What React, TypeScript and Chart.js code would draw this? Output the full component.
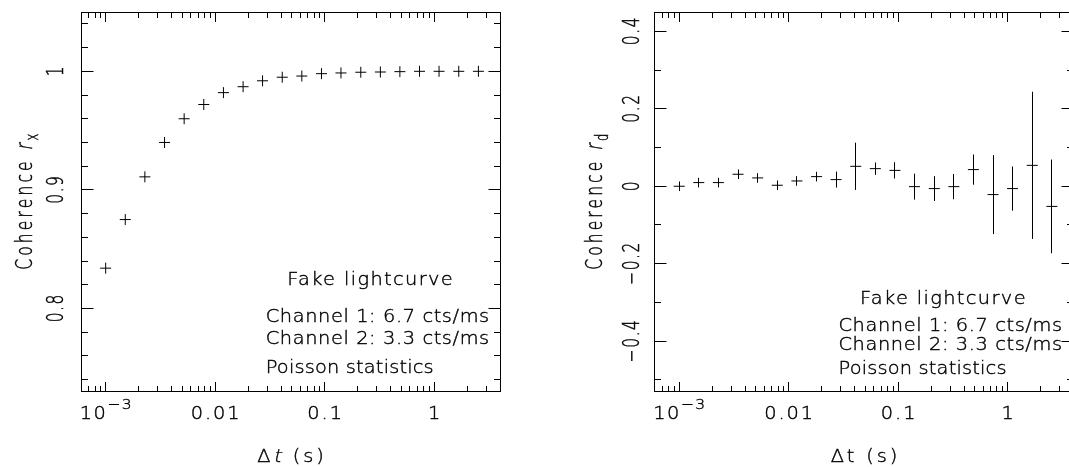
import React, { useEffect, useRef } from 'react';
import { Chart, registerables } from 'chart.js';

Chart.register(...registerables);

// ---------------- data ----------------
const deltaT = [0.001, 0.00151, 0.00228, 0.00345, 0.00521, 0.00787, 0.0119, 0.018, 0.0271, 0.041, 0.0619, 0.0936, 0.141, 0.214, 0.323, 0.487, 0.736, 1.11, 1.68, 2.54];
const coherenceRx = [0.834, 0.875, 0.911, 0.94, 0.96, 0.972, 0.982, 0.987, 0.992, 0.995, 0.996, 0.998, 0.9986, 0.9992, 0.9994, 0.9997, 1.0, 1.0, 1.0, 1.0];
const coherenceRd = [0.0, 0.0095, 0.0095, 0.031, 0.0215, 0.0026, 0.0137, 0.0249, 0.0172, 0.0515, 0.0455, 0.041, -0.001, -0.006, -0.001, 0.043, -0.0215, -0.006, 0.054, -0.052];
const coherenceRdErr = [0.004, 0.004, 0.004, 0.005, 0.005, 0.005, 0.006, 0.008, 0.0206, 0.061, 0.016, 0.021, 0.0335, 0.032, 0.0326, 0.039, 0.102, 0.057, 0.19, 0.121];

const xTickValues = [0.001, 0.01, 0.1, 1];
const xTickLabels = ['10^\u22123', '0.01', '0.1', '1'];
const yTickValuesL = [0.8, 0.9, 1];
const yTickLabelsL = ['0.8', '0.9', '1'];
const yMinorValuesL = [0.74, 0.76, 0.78, 0.82, 0.84, 0.86, 0.88, 0.92, 0.94, 0.96, 0.98, 1.02, 1.04];
const yTickValuesR = [-0.4, -0.2, 0, 0.2, 0.4];
const yTickLabelsR = ['\u22120.4', '\u22120.2', '0', '0.2', '0.4'];
const yMinorValuesR = [-0.5, -0.3, -0.1, 0.1, 0.3];

const notes = ['Fake lightcurve', 'Channel 1: 6.7 cts/ms', 'Channel 2: 3.3 cts/ms', 'Poisson statistics'];

const X_MIN = 5.95e-4;
const X_MAX = 4.0;

// ---------------- style ----------------
const FONT_FAMILY = '"DejaVu Sans", "Liberation Sans", sans-serif';
const FONT_WEIGHT = '200';
const FS = 18;
const SX = 1.25; // horizontal stretch of the original device
const COND = 0.86; // glyph condensation (narrow strokes font, wide spacing)
const INK = '#000';
const TICK_LS = 1.8;

type Seg = { t: string; italic?: boolean; scale?: number; dy?: number };

function fontStr(size: number) {
  return `${FONT_WEIGHT} ${size}px ${FONT_FAMILY}`;
}
function setLS(ctx: any, ls: number) {
  if ('letterSpacing' in ctx) ctx.letterSpacing = `${ls}px`;
}
function parseLabel(s: string): Seg[] {
  const i = s.indexOf('^');
  if (i < 0) return [{ t: s }];
  return [{ t: s.slice(0, i) }, { t: s.slice(i + 1), scale: 0.8, dy: -9.5 }];
}
function drawText(ctx: any, segs: Seg[], x: number, y: number, align: string, rot: number, target?: number, lsDefault = 1.5) {
  ctx.save();
  ctx.translate(x, y);
  ctx.scale(SX, 1);
  if (rot) ctx.rotate(rot);
  ctx.scale(COND, 1);
  setLS(ctx, 0);
  const w0 = segs.map((s) => {
    ctx.font = fontStr(FS * (s.scale ?? 1));
    return ctx.measureText(s.t).width;
  });
  const counts = segs.map((s) => Array.from(s.t).length);
  const nChars = counts.reduce((a, b) => a + b, 0);
  const sum0 = w0.reduce((a, b) => a + b, 0);
  let ls = lsDefault;
  if (target && nChars > 1) {
    const local = (rot ? target : target / SX) / COND;
    ls = (local - sum0) / (nChars - 1);
  }
  const total = sum0 + (nChars - 1) * ls;
  let cx = align === 'left' ? 0 : align === 'center' ? -total / 2 : -total;
  ctx.textAlign = 'left';
  ctx.textBaseline = 'alphabetic';
  ctx.fillStyle = INK;
  ctx.strokeStyle = INK;
  ctx.lineWidth = 0.4;
  segs.forEach((s, i) => {
    ctx.font = fontStr(FS * (s.scale ?? 1));
    setLS(ctx, ls);
    ctx.save();
    ctx.translate(cx, s.dy ?? 0);
    if (s.italic) ctx.transform(1, 0, -0.22, 1, 0, 0);
    ctx.fillText(s.t, 0, 0);
    ctx.strokeText(s.t, 0, 0);
    ctx.restore();
    cx += w0[i] + counts[i] * ls;
  });
  ctx.restore();
}

const crisp = (v: number) => Math.round(v - 0.5) + 0.5;

const pgPlugin = {
  id: 'pg',
  afterDatasetsDraw(chart: any, _args: any, opts: any) {
    if (!opts.errors) return;
    const ctx = chart.ctx;
    const xs = chart.scales.x;
    const ys = chart.scales.y;
    ctx.save();
    ctx.strokeStyle = '#000';
    ctx.lineWidth = 1;
    opts.errors.forEach((e: number, i: number) => {
      const px = crisp(xs.getPixelForValue(opts.xv[i]));
      const yc = ys.getPixelForValue(opts.yv[i]);
      const y1 = Math.min(ys.getPixelForValue(opts.yv[i] + e), yc - opts.minArm);
      const y2 = Math.max(ys.getPixelForValue(opts.yv[i] - e), yc + opts.minArm);
      ctx.beginPath();
      ctx.moveTo(px, y1);
      ctx.lineTo(px, y2);
      ctx.stroke();
    });
    ctx.restore();
  },
  afterDraw(chart: any, _args: any, opts: any) {
    const ctx = chart.ctx;
    const a = chart.chartArea;
    const xs = chart.scales.x;
    const ys = chart.scales.y;
    const L = crisp(a.left), R = crisp(a.right), T = crisp(a.top), B = crisp(a.bottom);
    ctx.save();
    ctx.strokeStyle = '#000';
    ctx.lineWidth = 1;
    ctx.strokeRect(L, T, R - L, B - T);
    ctx.beginPath();
    const xMajor = 9.5, xMinor = 5.5, yMajor = 12, yMinor = 6.5;
    const xminors: number[] = [];
    for (let d = -4; d <= 1; d++) {
      for (let m = 2; m <= 9; m++) {
        const v = m * Math.pow(10, d);
        if (v > X_MIN && v < X_MAX) xminors.push(v);
      }
    }
    const xt = (v: number, len: number) => {
      const p = crisp(xs.getPixelForValue(v));
      ctx.moveTo(p, B); ctx.lineTo(p, B - len);
      ctx.moveTo(p, T); ctx.lineTo(p, T + len);
    };
    xTickValues.forEach((v) => xt(v, xMajor));
    xminors.forEach((v) => xt(v, xMinor));
    const yt = (v: number, len: number) => {
      const p = crisp(ys.getPixelForValue(v));
      ctx.moveTo(L, p); ctx.lineTo(L + len, p);
      ctx.moveTo(R, p); ctx.lineTo(R - len, p);
    };
    opts.yMajor.forEach((v: number) => yt(v, yMajor));
    opts.yMinor.forEach((v: number) => yt(v, yMinor));
    ctx.stroke();
    ctx.restore();

    // tick labels
    xTickValues.forEach((v, i) => {
      const lab = xTickLabels[i];
      const target = lab.includes('^') ? 52 : undefined;
      drawText(ctx, parseLabel(lab), xs.getPixelForValue(v), a.bottom + 27, 'center', 0, target, TICK_LS);
    });
    opts.yMajor.forEach((v: number, i: number) => {
      drawText(ctx, [{ t: opts.yLabels[i] }], a.left - opts.yLabelGap, ys.getPixelForValue(v), 'center', -Math.PI / 2, undefined, TICK_LS);
    });
    // axis titles
    drawText(ctx, opts.xTitle, (a.left + a.right) / 2, a.bottom + 70, 'center', 0, 66.5);
    drawText(ctx, opts.yTitle, a.left - opts.yTitleGap, (a.top + a.bottom) / 2, 'center', -Math.PI / 2, 136);
    // annotation text
    const n = opts.notes;
    drawText(ctx, [{ t: notes[0] }], n.cx, n.b0, 'center', 0, 165.5);
    drawText(ctx, [{ t: notes[1] }], n.lx, n.b1, 'left', 0, 223.5);
    drawText(ctx, [{ t: notes[2] }], n.lx, n.b2, 'left', 0, 223.5);
    drawText(ctx, [{ t: notes[3] }], n.lx, n.b3, 'left', 0, 168);
  },
};

function makeConfig(panel: 'L' | 'R') {
  const isL = panel === 'L';
  const ys = isL ? coherenceRx : coherenceRd;
  return {
    type: 'scatter',
    data: {
      datasets: [
        {
          data: deltaT.map((x, i) => ({ x, y: ys[i] })),
          pointStyle: isL ? 'cross' : 'line',
          pointRadius: 5.5,
          pointHoverRadius: 5.5,
          borderColor: '#000',
          backgroundColor: '#000',
          borderWidth: 1,
          showLine: false,
        },
      ],
    },
    options: {
      animation: false,
      responsive: false,
      devicePixelRatio: 1,
      events: [],
      layout: isL
        ? { padding: { left: 81, right: 34, top: 12, bottom: 75.5 } }
        : { padding: { left: 120.5, right: 20.5, top: 12, bottom: 75.5 } },
      scales: {
        x: { type: 'logarithmic', min: X_MIN, max: X_MAX, display: false },
        y: isL
          ? { type: 'linear', min: 0.73, max: 1.05, display: false }
          : { type: 'linear', min: -0.53, max: 0.45, display: false },
      },
      plugins: {
        legend: { display: false },
        tooltip: { enabled: false },
        pg: {
          yMajor: isL ? yTickValuesL : yTickValuesR,
          yMinor: isL ? yMinorValuesL : yMinorValuesR,
          yLabels: isL ? yTickLabelsL : yTickLabelsR,
          yLabelGap: isL ? 18 : 15.5,
          yTitleGap: isL ? 49.5 : 53,
          xTitle: isL ? [{ t: '\u0394' }, { t: 't', italic: true }, { t: ' (s)' }] : [{ t: '\u0394t (s)' }],
          yTitle: isL
            ? [{ t: 'Coherence ' }, { t: 'r', italic: true }, { t: 'x', scale: 0.75, dy: 5 }]
            : [{ t: 'Coherence ' }, { t: 'r', italic: true }, { t: 'd', scale: 0.75, dy: 5 }],
          notes: isL
            ? { cx: 370, lx: 265.7, b0: 285.3, b1: 321.7, b2: 344.3, b3: 373.3 }
            : { cx: 942.8 - 534, lx: 838.5 - 534, b0: 304, b1: 331, b2: 350, b3: 373.5 },
          errors: isL ? null : coherenceRdErr,
          minArm: 4.8,
          xv: deltaT,
          yv: ys,
        },
      },
    },
    plugins: [pgPlugin],
  } as any;
}

export default function App() {
  const leftRef = useRef<HTMLCanvasElement | null>(null);
  const rightRef = useRef<HTMLCanvasElement | null>(null);
  useEffect(() => {
    const c1 = new Chart(leftRef.current as HTMLCanvasElement, makeConfig('L'));
    const c2 = new Chart(rightRef.current as HTMLCanvasElement, makeConfig('R'));
    return () => {
      c1.destroy();
      c2.destroy();
    };
  }, []);
  return (
    <div style={{ position: 'fixed', left: 0, top: 0, width: 1069, height: 467, overflow: 'hidden', background: '#fff' }}>
      <canvas ref={leftRef} width={534} height={467} style={{ position: 'absolute', left: 0, top: 0, width: 534, height: 467 }} />
      <canvas ref={rightRef} width={560} height={467} style={{ position: 'absolute', left: 534, top: 0, width: 560, height: 467 }} />
    </div>
  );
}
